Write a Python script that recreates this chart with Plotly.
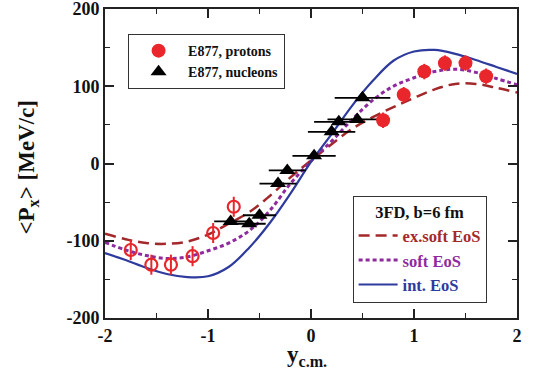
import plotly.graph_objects as go

# Directed flow <Px> vs. rapidity: E877 data and 3FD calculations (b = 6 fm)

# 3FD model curves
y_model = [-2.0, -1.8, -1.6, -1.4, -1.2, -1.0, -0.8, -0.6, -0.4, -0.2, 0.0,
           0.2, 0.4, 0.6, 0.8, 1.0, 1.2, 1.4, 1.6, 1.8, 2.0]
px_exsoft = [-91, -98, -103, -104, -101, -92, -78, -63, -42, -18, 4,
             25, 45, 60, 73, 85, 96, 103, 103, 98, 92]
px_soft = [-102, -112, -119, -123, -121, -113, -103, -87, -61, -26, 3,
           29, 57, 82, 100, 111, 119, 122, 118, 110, 102]
px_int = [-116, -125, -135, -143, -147, -146, -134, -109, -77, -39, 2,
          38, 75, 107, 133, 145, 147, 142, 134, 125, 116]

# E877 protons, measured (forward) and reflected (backward) points
y_prot = [0.7, 0.9, 1.1, 1.3, 1.5, 1.7]
px_prot = [56, 89, 119, 130, 130, 113]
err_prot = [10, 10, 10, 10, 10, 10]
y_prot_refl = [-0.75, -0.95, -1.15, -1.36, -1.55, -1.75]
px_prot_refl = [-56, -90, -120, -131, -131, -112]
err_prot_refl = [13, 13, 13, 13, 13, 13]

# E877 nucleons with rapidity bin half-widths
y_nucl = [-0.78, -0.6, -0.5, -0.32, -0.23, 0.03, 0.2, 0.27, 0.45, 0.5]
px_nucl = [-75, -78, -67, -26, -9, 10, 41, 54, 57, 85]
dy_nucl = [0.16, 0.16, 0.16, 0.18, 0.18, 0.21, 0.23, 0.24, 0.29, 0.27]

RED = "#E8262B"
DARKRED = "#A3282B"
PURPLE = "#8E2A9E"
BLUE = "#2E3A9C"
FONT = "Liberation Serif"

fig = go.Figure()

fig.add_trace(go.Scatter(
    x=y_model, y=px_exsoft, mode="lines", line_shape="spline",
    line=dict(color=DARKRED, width=2.5, dash="11px,6px"),
    name=f"<span style='color:{DARKRED}'>ex.soft EoS</span>", legend="legend2"))
fig.add_trace(go.Scatter(
    x=y_model, y=px_soft, mode="lines", line_shape="spline",
    line=dict(color=PURPLE, width=3, dash="4px,3px"),
    name=f"<span style='color:{PURPLE}'>soft EoS</span>", legend="legend2"))
fig.add_trace(go.Scatter(
    x=y_model, y=px_int, mode="lines", line_shape="spline",
    line=dict(color=BLUE, width=2.2),
    name=f"<span style='color:{BLUE}'>int. EoS</span>", legend="legend2"))

fig.add_trace(go.Scatter(
    x=y_nucl, y=px_nucl, mode="markers",
    marker=dict(symbol="triangle-up", size=14, color="black"),
    error_x=dict(type="data", array=dy_nucl, color="black", thickness=1.8, width=0),
    name="E877, nucleons", legend="legend", legendrank=2))
fig.add_trace(go.Scatter(
    x=y_prot_refl, y=px_prot_refl, mode="markers",
    marker=dict(symbol="circle-open", size=12, color=RED, line=dict(width=2.2)),
    error_y=dict(type="data", array=err_prot_refl, color=RED, thickness=2, width=0),
    showlegend=False))
fig.add_trace(go.Scatter(
    x=y_prot, y=px_prot, mode="markers",
    marker=dict(symbol="circle", size=14, color=RED),
    error_y=dict(type="data", array=err_prot, color=RED, thickness=2, width=0),
    name="E877, protons", legend="legend", legendrank=1))

axis_common = dict(
    automargin=False,
    showline=True, linewidth=2, linecolor="#222", mirror="ticks",
    ticks="inside", ticklen=9, tickwidth=1.6, tickcolor="#222",
    showgrid=False, zeroline=False, ticklabeloverflow="allow",
    tickfont=dict(family=FONT, size=18, color="#111", weight="bold"),
)

fig.update_xaxes(
    range=[-2, 2], tickvals=[-2, -1, 0, 1, 2], ticktext=["-2", "-1", "0", "1", "2"],
    minor=dict(dtick=0.5, ticks="inside", ticklen=5, tickwidth=1.4, tickcolor="#222"),
    **axis_common)
fig.update_yaxes(
    range=[-200, 200], tickvals=[-200, -100, 0, 100, 200],
    ticktext=["-200", "-100", "0", "100", "200"],
    minor=dict(dtick=50, ticks="inside", ticklen=5, tickwidth=1.4, tickcolor="#222"),
    **axis_common)

title_font = dict(family=FONT, size=23, color="#111", weight="bold")
fig.add_annotation(text="y<sub>c.m.</sub>", xref="paper", yref="paper",
                   x=0.49, y=-0.123, xanchor="center", yanchor="middle",
                   showarrow=False, font=title_font)
fig.add_annotation(text="&lt;P<sub>x</sub>&gt; [MeV/c]", xref="paper", yref="paper",
                   x=-0.187, y=0.49, xanchor="center", yanchor="middle", textangle=-90,
                   showarrow=False, font=title_font)

fig.update_layout(
    template="none",
    width=535, height=387,
    margin=dict(l=105, r=18, t=9, b=69),
    plot_bgcolor="white", paper_bgcolor="white",
    legend=dict(
        x=0.056, y=0.919, xanchor="left", yanchor="top",
        bgcolor="white", bordercolor="#333", borderwidth=1,
        font=dict(family=FONT, size=14, color="#111", weight="bold"),
        itemwidth=49, tracegroupgap=0, traceorder="normal",
    ),
    legend2=dict(
        x=0.601, y=0.395, xanchor="left", yanchor="top",
        bgcolor="white", bordercolor="#333", borderwidth=1,
        font=dict(family=FONT, size=16.5, color="#111", weight="bold"),
        title=dict(text="3FD, b=6 fm", side="top center",
                   font=dict(family=FONT, size=16.5, color="#111", weight="bold")),
        itemwidth=39, traceorder="normal",
    ),
)

fig.write_html("out.html")
